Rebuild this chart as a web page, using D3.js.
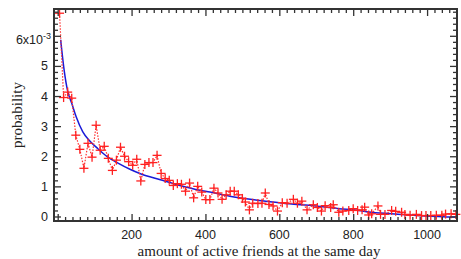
<!DOCTYPE html>
<html><head><meta charset="utf-8">
<script src="https://cdn.jsdelivr.net/npm/d3@7/dist/d3.min.js"></script>
<style>body{margin:0;background:#fff}svg{display:block}</style>
</head><body>
<svg id="c" width="461" height="259"></svg>
<script>
// amount of active friends (x) and probability (in units of 1e-3)
const friends = [5,16,27,38,49,60,71,82,93,104,115,126,137,148,159,170,181,192,203,214,225,236,247,258,269,280,291,302,313,324,335,346,357,368,379,390,401,
 412,423,434,445,456,467,478,489,500,508,519,528,542,553,562,572,583,595,608,621,638,649,661,675,692,703,714,
 724,739,746,761,772,788,800,812,824,831,842,850,867,874,886,904,915,931,940,954,971,985,997,1010,1025,1040,1050,1065,1078];
const probE3 = [6.75,3.95,4.13,3.93,2.7,2.23,1.6,2.43,1.97,3.03,2.2,2.33,1.93,1.53,1.87,2.3,2.0,1.82,1.7,1.9,
 1.18,1.73,1.79,1.79,2.03,1.43,1.26,1.2,1.03,1.09,1.07,0.84,1.11,0.62,1.0,0.81,0.56,
 0.56,0.94,0.78,0.57,0.72,0.84,0.84,0.72,0.6,0.48,0.22,0.44,0.43,0.44,0.78,0.4,0.35,0.18,
 0.46,0.44,0.57,0.44,0.51,0.22,0.39,0.3,0.18,0.36,0.3,0.39,0.14,0.18,0.2,0.26,0.2,0.22,
 0.31,0.05,0.09,0.35,0.07,0.07,0.2,0.17,0.14,0.07,0.04,0.07,0.03,0.03,0.03,0.04,0.04,0.08,0.09,0.07];
// fitted curve samples
const fitX = [8,18,27,38,50,68,85,108,135,162,197,224,278,331,385,412,466,546,600,627,680,761,815,842,904,994,1081];
const fitE3 = [5.87,4.81,4.16,3.76,3.31,2.81,2.53,2.26,1.98,1.78,1.56,1.42,1.22,1.03,0.87,0.81,0.67,0.53,0.46,0.42,0.37,0.26,0.2,0.15,0.09,0.02,-0.02];
const xTicks = [200,400,600,800,1000];
const yTicks = [0,1,2,3,4,5,6];

const svg = d3.select("#c");
const L=54,R=457,T=9,B=221;
const x = d3.scaleLinear().domain([-10,1081]).range([L,R]);
const y = d3.scaleLinear().domain([-0.15,6.89]).range([B,T]);
const axisCol="#333";

// curve
const fitData = fitX.map((v,i)=>[v,fitE3[i]]);
svg.append("path").datum(fitData)
 .attr("d", d3.line().x(d=>x(d[0])).y(d=>y(d[1])).curve(d3.curveMonotoneX))
 .attr("fill","none").attr("stroke","#1a1ad8").attr("stroke-width",1.5);

// data
const pts = friends.map((v,i)=>[v,probE3[i]]);
svg.append("path").datum(pts)
 .attr("d", d3.line().x(d=>x(d[0])).y(d=>y(d[1])))
 .attr("fill","none").attr("stroke","#ff3030").attr("stroke-width",1.2).attr("stroke-dasharray","1.5,1.5");
const g = svg.append("g").attr("stroke","#ff2020").attr("stroke-width",1.3);
pts.forEach(d=>{
  const cx=x(d[0]), cy=y(d[1]), s=4.5;
  g.append("line").attr("x1",cx-s).attr("x2",cx+s).attr("y1",cy).attr("y2",cy);
  g.append("line").attr("x1",cx).attr("x2",cx).attr("y1",cy-s).attr("y2",cy+s);
});

// axes
const xMinor = d3.range(0,1081,20).filter(v=>v%200!==0);
const yMinor = d3.range(0,6.89,0.2).map(v=>+v.toFixed(1)).filter(v=>Math.abs(v-Math.round(v))>0.01);
const majX = d3.range(0,1081,200);
function addAxis(axis, tr){
  const a = svg.append("g").attr("transform",tr).call(axis);
  a.select(".domain").remove();
  a.selectAll("line").attr("stroke",axisCol).attr("stroke-width",1.3);
  a.selectAll("text").remove();
  return a;
}
addAxis(d3.axisBottom(x).tickValues(majX).tickSize(-7),`translate(0,${B})`);
addAxis(d3.axisBottom(x).tickValues(xMinor).tickSize(-4),`translate(0,${B})`);
addAxis(d3.axisTop(x).tickValues(majX).tickSize(-7),`translate(0,${T})`);
addAxis(d3.axisTop(x).tickValues(xMinor).tickSize(-4),`translate(0,${T})`);
addAxis(d3.axisLeft(y).tickValues(yTicks).tickSize(-7),`translate(${L},0)`);
addAxis(d3.axisLeft(y).tickValues(yMinor).tickSize(-4),`translate(${L},0)`);
addAxis(d3.axisRight(y).tickValues(yTicks).tickSize(-7),`translate(${R},0)`);
addAxis(d3.axisRight(y).tickValues(yMinor).tickSize(-4),`translate(${R},0)`);

svg.append("rect").attr("x",L).attr("y",T).attr("width",R-L).attr("height",B-T)
 .attr("fill","none").attr("stroke",axisCol).attr("stroke-width",2);

// tick labels
const fs="'Liberation Sans',Arial,sans-serif";
svg.append("g").selectAll("text").data(xTicks).join("text")
 .attr("x",d=>x(d)).attr("y",238.5).attr("text-anchor","middle")
 .attr("font-family",fs).attr("font-size",12.5).attr("fill","#222").text(d=>d);
const yl = svg.append("g");
yTicks.forEach(v=>{
  const t = yl.append("text").attr("x",48).attr("y",y(v)+4.5).attr("text-anchor","end")
   .attr("font-family",fs).attr("font-size",12.5).attr("fill","#222");
  if(v===6){
    t.attr("x",51).attr("y",y(v)+8);
    t.append("tspan").text("6x10");
    t.append("tspan").attr("dy",-5).attr("font-size",9).text("-3");
  } else t.text(v);
});

// titles
svg.append("text").attr("x",259).attr("y",256).attr("text-anchor","middle")
 .attr("font-family","'Liberation Serif','Times New Roman',serif").attr("font-size",15).attr("fill","#222")
 .text("amount of active friends at the same day");
svg.append("text").attr("transform","translate(22,115) rotate(-90)").attr("text-anchor","middle")
 .attr("font-family","'Liberation Serif','Times New Roman',serif").attr("font-size",15).attr("fill","#222")
 .text("probability");
</script>
</body></html>
